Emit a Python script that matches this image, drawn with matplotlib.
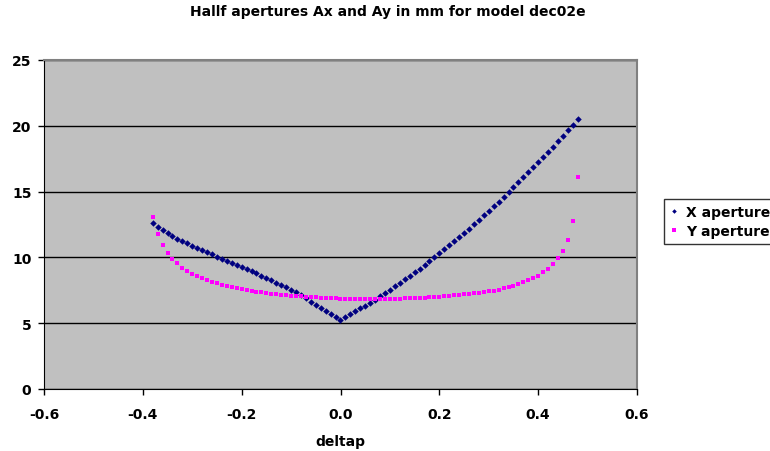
import numpy as np
import matplotlib.pyplot as plt

plt.rcParams['font.family'] = ['DejaVu Sans']

deltap = np.round(np.arange(-38, 49) / 100, 2)

x_aperture = [
    12.64, 12.34, 12.05, 11.83, 11.63, 11.43, 11.25, 11.07, 10.89, 10.71,
    10.55, 10.39, 10.23, 10.06, 9.90, 9.75, 9.60, 9.43, 9.27, 9.12,
    8.95, 8.79, 8.62, 8.44, 8.27, 8.09, 7.91, 7.73, 7.54, 7.35,
    7.14, 6.90, 6.64, 6.38, 6.17, 5.95, 5.72, 5.48, 5.25,
    5.46, 5.71, 5.91, 6.12, 6.34, 6.56, 6.80, 7.04, 7.30, 7.55,
    7.80, 8.07, 8.33, 8.59, 8.87, 9.14, 9.44, 9.73, 10.01, 10.31,
    10.61, 10.93, 11.25, 11.57, 11.88, 12.19, 12.51, 12.86, 13.20, 13.53,
    13.88, 14.23, 14.59, 14.94, 15.32, 15.70, 16.08, 16.46, 16.84, 17.22,
    17.63, 18.03, 18.41, 18.84, 19.25, 19.68, 20.09, 20.52,
]

y_aperture = [
    13.10, 11.75, 10.94, 10.36, 9.88, 9.55, 9.22, 8.99, 8.76, 8.59,
    8.43, 8.28, 8.16, 8.05, 7.93, 7.85, 7.75, 7.67, 7.60, 7.52,
    7.45, 7.40, 7.35, 7.29, 7.24, 7.21, 7.17, 7.14, 7.09, 7.07,
    7.04, 7.02, 6.99, 6.97, 6.94, 6.92, 6.91, 6.89, 6.87,
    6.86, 6.86, 6.85, 6.85, 6.85, 6.85, 6.85, 6.85, 6.85, 6.86,
    6.86, 6.87, 6.88, 6.89, 6.91, 6.93, 6.95, 6.97, 6.99, 7.02,
    7.05, 7.08, 7.11, 7.15, 7.19, 7.23, 7.27, 7.31, 7.36, 7.42,
    7.48, 7.56, 7.65, 7.75, 7.85, 7.98, 8.11, 8.26, 8.41, 8.61,
    8.87, 9.14, 9.50, 9.93, 10.51, 11.35, 12.74, 16.13,
]

fig = plt.figure(figsize=(7.7, 4.52), dpi=100)
ax = fig.add_axes([44 / 770, 62 / 452, 593 / 770, 329 / 452])
ax.set_facecolor('#C0C0C0')

ax.plot(deltap, x_aperture, linestyle='none', marker='D', markersize=3.3,
        markeredgewidth=0, color='#000080', label='X aperture')
ax.plot(deltap, y_aperture, linestyle='none', marker='s', markersize=3.2,
        markeredgewidth=0, color='#FF00FF', label='Y aperture')

ax.set_xlim(-0.6, 0.6)
ax.set_ylim(0, 25)
ax.set_xticks(np.arange(-0.6, 0.61, 0.2))
ax.set_xticklabels(['-0.6', '-0.4', '-0.2', '0.0', '0.2', '0.4', '0.6'])
ax.set_yticks(range(0, 26, 5))
ax.yaxis.grid(True, color='black', linewidth=1)
ax.set_axisbelow(True)

for side in ['top', 'right']:
    ax.spines[side].set_color('#808080')
    ax.spines[side].set_linewidth(1.5)
ax.spines['left'].set_color('black')
ax.spines['bottom'].set_color('black')

ax.tick_params(direction='out', length=4, width=1, labelsize=10)
ax.tick_params(axis='x', pad=9)
ax.tick_params(axis='y', pad=5)
for lbl in ax.get_xticklabels() + ax.get_yticklabels():
    lbl.set_fontweight('bold')

ax.set_xlabel('deltap', fontsize=10, fontweight='bold', labelpad=9)
fig.text(388 / 770, 1 - 12 / 452, 'Hallf apertures Ax and Ay in mm for model dec02e',
         ha='center', va='center', fontsize=10, fontweight='bold')

leg = ax.legend(loc='upper left', bbox_to_anchor=(664 / 770, 1 - 200 / 452),
                bbox_transform=fig.transFigure, frameon=True, fancybox=False,
                prop={'size': 10, 'weight': 'bold'}, markerscale=0.7,
                handlelength=0.6, handletextpad=0.6, borderpad=0.4,
                labelspacing=0.4, borderaxespad=0)
leg.get_frame().set_edgecolor('black')
leg.get_frame().set_linewidth(1)

fig.savefig('out.png', dpi=100)
